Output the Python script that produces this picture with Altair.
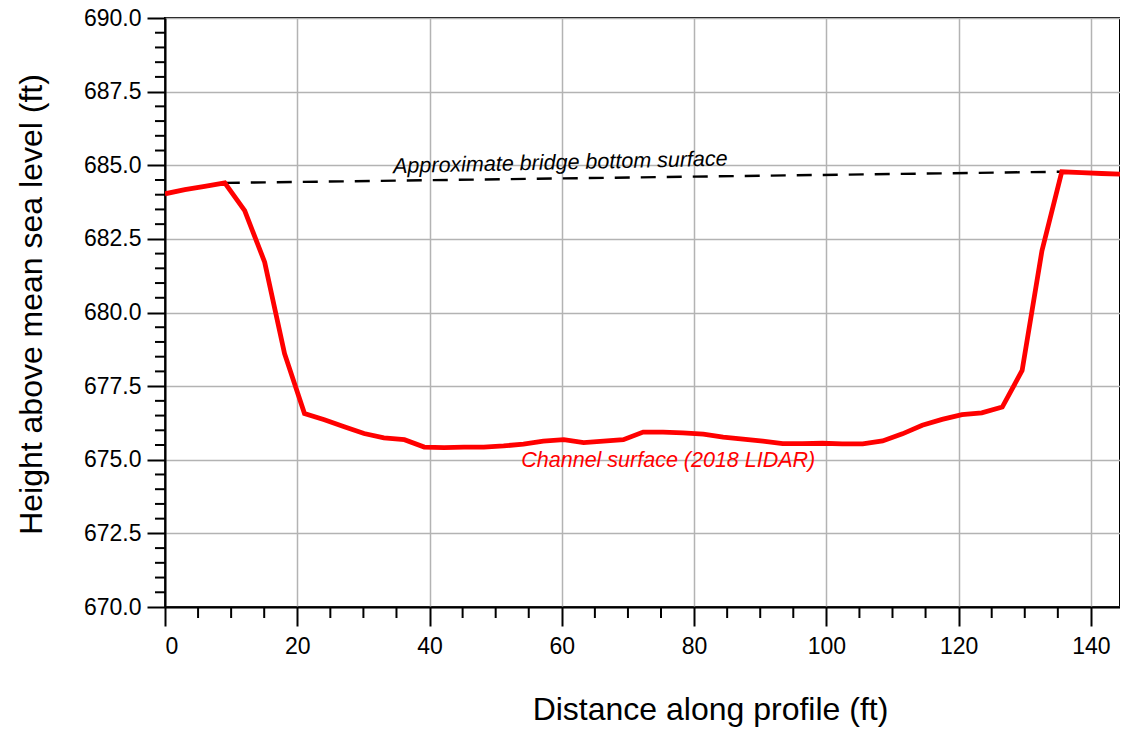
import altair as alt
import pandas as pd

# Channel surface profile (2018 LIDAR)
dist_ft = [0.0, 3.0, 6.0, 9.04, 12.05, 15.07, 18.08, 21.09, 24.1, 27.1, 30.1, 33.1,
           36.2, 39.2, 42.2, 45.2, 48.2, 51.2, 54.2, 57.2, 60.3, 63.3, 66.3, 69.3,
           72.3, 75.3, 78.3, 81.4, 84.4, 87.4, 90.4, 93.4, 96.4, 99.4, 102.4, 105.5,
           108.5, 111.5, 114.5, 117.5, 120.5, 123.5, 126.6, 129.6, 132.6, 135.6,
           138.6, 141.6, 144.4]
height_ft = [684.03, 684.17, 684.28, 684.40, 683.46, 681.71, 678.60, 676.57, 676.36,
             676.12, 675.89, 675.74, 675.68, 675.43, 675.41, 675.43, 675.43, 675.47,
             675.53, 675.63, 675.68, 675.58, 675.63, 675.68, 675.94, 675.94, 675.91,
             675.87, 675.77, 675.70, 675.63, 675.55, 675.55, 675.56, 675.54, 675.54,
             675.64, 675.88, 676.17, 676.37, 676.53, 676.59, 676.79, 678.03, 682.10,
             684.78, 684.75, 684.72, 684.70]

# Approximate bridge bottom surface
bridge_x = [9.04, 135.6]
bridge_y = [684.40, 684.78]

x_major = [0, 20, 40, 60, 80, 100, 120, 140]
x_minor = [5, 10, 15, 25, 30, 35, 45, 50, 55, 65, 70, 75, 85, 90, 95,
           105, 110, 115, 125, 130, 135]
y_major = [670.0, 672.5, 675.0, 677.5, 680.0, 682.5, 685.0, 687.5, 690.0]
y_minor = [670.5, 671.0, 671.5, 672.0, 673.0, 673.5, 674.0, 674.5,
           675.5, 676.0, 676.5, 677.0, 678.0, 678.5, 679.0, 679.5,
           680.5, 681.0, 681.5, 682.0, 683.0, 683.5, 684.0, 684.5,
           685.5, 686.0, 686.5, 687.0, 688.0, 688.5, 689.0, 689.5]

labels_text = ["Approximate bridge bottom surface", "Channel surface (2018 LIDAR)"]
labels_x = [59.8, 76.1]
labels_y = [684.86, 674.75]

FONT = "Liberation Sans"
W, H = 955, 589

xs = alt.Scale(domain=[0, 144.4], nice=False, zero=False)
ys = alt.Scale(domain=[670, 690], nice=False, zero=False)

profile = pd.DataFrame({"x": dist_ft, "y": height_ft})
bridge = pd.DataFrame({"x": bridge_x, "y": bridge_y})
xmin_df = pd.DataFrame({"x": x_minor})
ymin_df = pd.DataFrame({"y": y_minor})

x_axis = alt.Axis(values=x_major, format="d", tickSize=19, labelPadding=9,
                  title="Distance along profile (ft)", titlePadding=36,
                  titleX=545, titleAlign="center")
y_axis = alt.Axis(values=y_major, format=".1f", tickSize=18, labelPadding=6,
                  title="Height above mean sea level (ft)", titlePadding=35,
                  titleY=286, titleAlign="center")

red_line = alt.Chart(profile).mark_line(color="#ff0000", strokeWidth=4.8, clip=True).encode(
    x=alt.X("x:Q", scale=xs, axis=x_axis),
    y=alt.Y("y:Q", scale=ys, axis=y_axis),
)

bridge_line = alt.Chart(bridge).mark_line(color="black", strokeWidth=2.4, strokeDash=[15, 11]).encode(
    x=alt.X("x:Q", scale=xs),
    y=alt.Y("y:Q", scale=ys),
)

x_minor_ticks = alt.Chart(xmin_df).mark_rule(color="black", strokeWidth=2).encode(
    x=alt.X("x:Q", scale=xs),
    y=alt.value(H),
    y2=alt.value(H + 11),
)

y_minor_ticks = alt.Chart(ymin_df).mark_rule(color="black", strokeWidth=2).encode(
    y=alt.Y("y:Q", scale=ys),
    x=alt.value(0),
    x2=alt.value(-10),
)

txt1 = alt.Chart(pd.DataFrame({"x": [labels_x[0]], "y": [labels_y[0]], "t": [labels_text[0]]})).mark_text(
    font=FONT, fontSize=21.5, fontStyle="italic", color="black", align="center",
    baseline="alphabetic", angle=358.7
).encode(x=alt.X("x:Q", scale=xs), y=alt.Y("y:Q", scale=ys), text="t:N")

txt2 = alt.Chart(pd.DataFrame({"x": [labels_x[1]], "y": [labels_y[1]], "t": [labels_text[1]]})).mark_text(
    font=FONT, fontSize=21.5, fontStyle="italic", color="#ff0000", align="center",
    baseline="alphabetic"
).encode(x=alt.X("x:Q", scale=xs), y=alt.Y("y:Q", scale=ys), text="t:N")

chart = alt.layer(
    red_line, x_minor_ticks, y_minor_ticks, bridge_line, txt1, txt2
).properties(
    width=W, height=H,
    autosize=alt.AutoSizeParams(type="none"),
    padding={"left": 157, "top": 10, "right": 0, "bottom": 122},
).configure_view(
    stroke="black", strokeWidth=2
).configure_axis(
    domainColor="black", domainWidth=2,
    tickColor="black", tickWidth=2,
    gridColor="#b3b3b3", gridWidth=1.5,
    labelFont=FONT, labelFontSize=23, labelColor="black",
    titleFont=FONT, titleFontSize=32, titleFontWeight="normal", titleColor="black",
)

# draw the red line above the ticks and the dashed line
chart.layer = [x_minor_ticks, y_minor_ticks, bridge_line,
               red_line, txt1, txt2]

chart.save("out.html", embed_options={"renderer": "svg", "actions": False})
